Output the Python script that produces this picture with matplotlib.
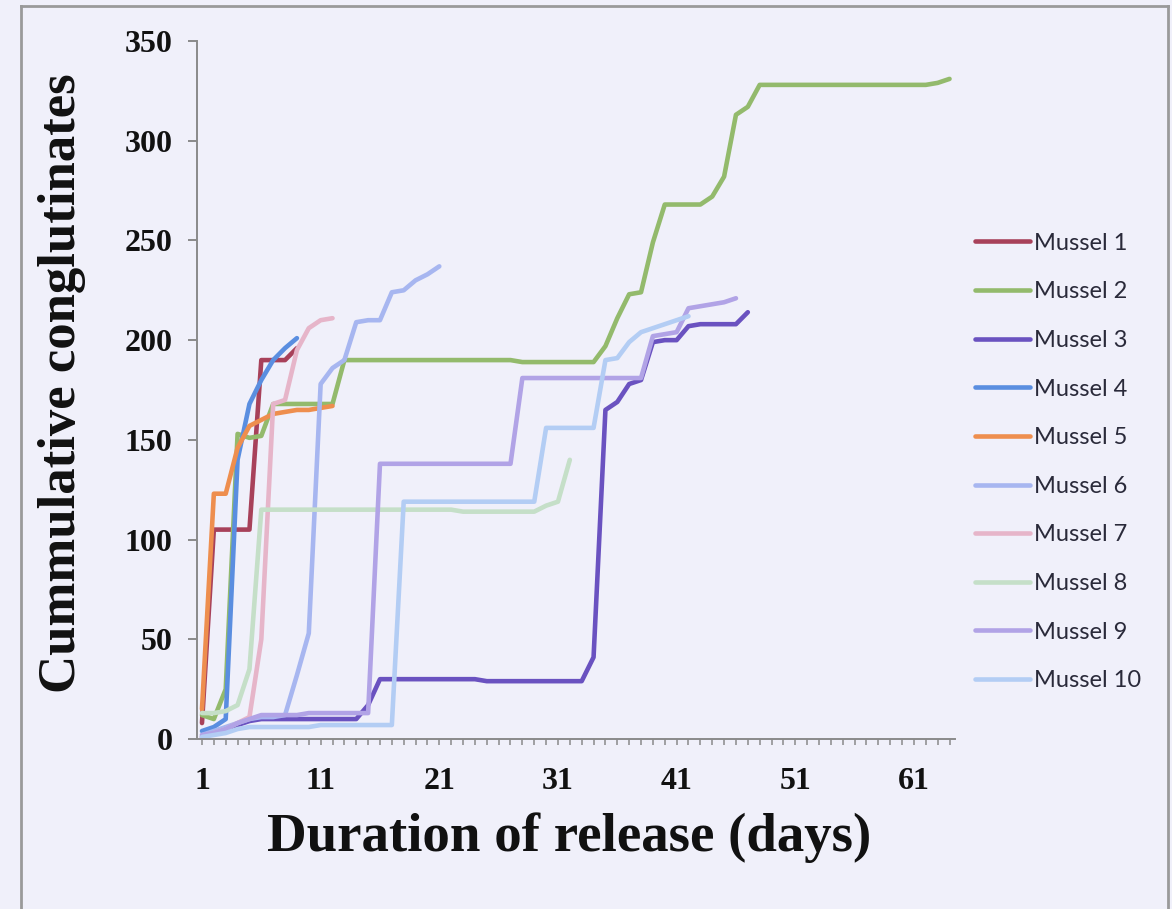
import numpy as np
import matplotlib.pyplot as plt
from matplotlib.lines import Line2D


# Cumulative conglutinates per day (day 1 first)
mussel1 = [8, 105, 105, 105, 105, 190, 190, 190, 196]
mussel2 = [12, 10, 25, 153, 151, 152, 168, 168, 168, 168, 168, 168,
           190, 190, 190, 190, 190, 190, 190, 190, 190, 190, 190, 190, 190, 190, 190,
           189, 189, 189, 189, 189, 189, 189,
           197, 211, 223, 224, 249, 268, 268, 268, 268, 272, 282, 313, 317, 328,
           328, 328, 328, 328, 328, 328, 328, 328, 328, 328, 328, 328, 328, 328,
           329, 331]
mussel3 = [1, 3, 5, 7, 9, 10, 10, 10, 10, 10, 10, 10, 10, 10, 17,
           30, 30, 30, 30, 30, 30, 30, 30, 30, 29, 29, 29, 29, 29, 29, 29, 29, 29,
           41, 165, 169, 178, 180, 199, 200, 200, 207, 208, 208, 208, 208, 214]
mussel4 = [4, 6, 10, 140, 168, 180, 190, 196, 201]
mussel5 = [15, 123, 123, 146, 157, 160, 163, 164, 165, 165, 166, 167]
mussel6 = [2, 4, 6, 8, 10, 11, 11, 12, 32, 53, 178, 186, 190, 209, 210, 210,
           224, 225, 230, 233, 237]
mussel7 = [1, 3, 5, 8, 11, 50, 168, 170, 195, 206, 210, 211]
mussel8 = [13, 13, 14, 17, 35, 115, 115, 115, 115, 115, 115, 115, 115, 115, 115,
           115, 115, 115, 115, 115, 115, 115, 114, 114, 114, 114, 114, 114, 114,
           117, 119, 140]
mussel9 = [2, 3, 5, 8, 10, 12, 12, 12, 12, 13, 13, 13, 13, 13, 13,
           138, 138, 138, 138, 138, 138, 138, 138, 138, 138, 138, 138,
           181, 181, 181, 181, 181, 181, 181, 181, 181, 181, 181,
           202, 203, 204, 216, 217, 218, 219, 221]
mussel10 = [1, 2, 3, 5, 6, 6, 6, 6, 6, 6, 7, 7, 7, 7, 7, 7, 7,
            119, 119, 119, 119, 119, 119, 119, 119, 119, 119, 119, 119,
            156, 156, 156, 156, 156,
            190, 191, 199, 204, 206, 208, 210, 212]

series = [mussel1, mussel2, mussel3, mussel4, mussel5,
          mussel6, mussel7, mussel8, mussel9, mussel10]
names = ['Mussel 1', 'Mussel 2', 'Mussel 3', 'Mussel 4', 'Mussel 5',
         'Mussel 6', 'Mussel 7', 'Mussel 8', 'Mussel 9', 'Mussel 10']
colors = ['#a8415a', '#93ba6c', '#6a52c0', '#5a8ee0', '#ee8e4e',
          '#a7b6f0', '#e6b5c9', '#c5dfc8', '#b1a3e6', '#b3cdf4']

day_labels = ['1', '11', '21', '31', '41', '51', '61']
y_ticks = [0, 50, 100, 150, 200, 250, 300, 350]

bg = '#f0f0fa'
W, H = 1172, 909

fig = plt.figure(figsize=(W/100, H/100), dpi=100, facecolor=bg)
# axes box in pixels: left 197, right 955, bottom 739, top 41
ax = fig.add_axes([197/W, 1 - 739/H, (955 - 197)/W, (739 - 41)/H], facecolor=bg)

for vals, name, c in zip(series, names, colors):
    x = np.arange(1, len(vals) + 1)
    ax.plot(x, vals, color=c, lw=3.3, label=name, solid_joinstyle='round',
            solid_capstyle='round')

ax.set_xlim(0.58, 64.46)
ax.set_ylim(0, 350)

# every day gets a small tick, labels only every 10 days
all_days = np.arange(1, 65)
ax.set_xticks(all_days)
ax.set_xticklabels([str(d) if str(d) in day_labels else '' for d in all_days])
ax.set_yticks(y_ticks)

for s in ['top', 'right']:
    ax.spines[s].set_visible(False)
for s in ['left', 'bottom']:
    ax.spines[s].set_color('#8a8a8a')
    ax.spines[s].set_linewidth(1.4)

ax.tick_params(axis='x', direction='out', length=4.5, width=1.1, color='#8a8a8a',
               pad=16)
ax.tick_params(axis='y', direction='out', length=6.5, width=1.4, color='#8a8a8a',
               pad=11)
for lab in ax.get_xticklabels() + ax.get_yticklabels():
    lab.set_fontfamily('Liberation Serif')
    lab.set_fontweight('bold')
    lab.set_fontsize(23)
    lab.set_color('#111111')

fig.text(62/W, 1 - 383/H, 'Cummulative conglutinates', rotation=90,
         ha='center', va='center', family='Liberation Serif', weight='bold',
         size=38, color='#111111')
fig.text(569/W, 1 - 838/H, 'Duration of release (days)', ha='center',
         va='center', family='Liberation Serif', weight='bold', size=39.5,
         color='#111111')

fig.legend(loc='center left', bbox_to_anchor=(975/W, 1 - 462/H),
           bbox_transform=fig.transFigure, frameon=False, borderpad=0,
           borderaxespad=0, handlelength=2.33, handletextpad=0.15,
           labelspacing=1.17, prop={'family': 'Lato', 'size': 17},
           labelcolor='#2a2a3a')

# picture frame
frame_c = '#9a9a9a'
fig.add_artist(Line2D([21/W, 21/W], [0, 1 - 6/H], color=frame_c, lw=2))
fig.add_artist(Line2D([21/W, 1168/W], [1 - 6/H, 1 - 6/H], color=frame_c, lw=2))
fig.add_artist(Line2D([1168/W, 1168/W], [0, 1 - 6/H], color=frame_c, lw=2))

fig.savefig('out.png', dpi=100, facecolor=bg)
